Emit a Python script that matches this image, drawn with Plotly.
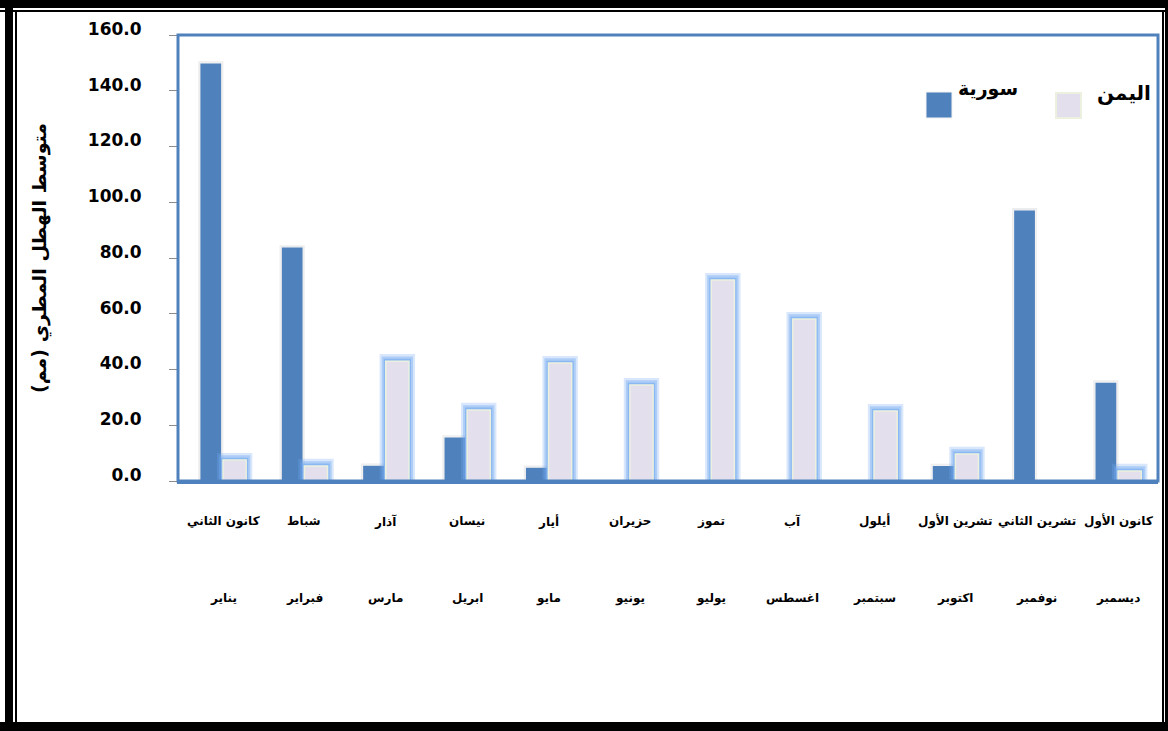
import plotly.graph_objects as go

# Monthly average rainfall (mm), Syria vs Yemen
months_levant = ["كانون الثاني", "شباط", "آذار", "نيسان", "أيار", "حزيران",
                 "تموز", "آب", "أيلول", "تشرين الأول", "تشرين الثاني", "كانون الأول"]
months_egypt = ["يناير", "فبراير", "مارس", "ابريل", "مايو", "يونيو",
                "يوليو", "اغسطس", "سبتمبر", "اكتوبر", "نوفمبر", "ديسمبر"]
syria = [150.0, 84.0, 5.7, 15.8, 5.0, 0.0, 0.0, 0.0, 0.0, 5.6, 97.3, 35.5]
yemen = [7.5, 5.4, 43.0, 25.5, 42.3, 34.4, 72.1, 58.1, 25.1, 9.7, 0.0, 3.6]
y_ticks = [0, 20, 40, 60, 80, 100, 120, 140, 160]

W, H = 1168, 731
L, R, T, B = 178, 10, 35, 250
PW, PH = W - L - R, H - T - B


def px(x):
    return (x - L) / PW


def py(y):
    return (H - B - y) / PH


BLUE = "#4F81BD"
LAV = "#E4DFEC"
LAV_EDGE = "#EBF1DE"

xs = list(range(len(months_levant)))
fig = go.Figure()

# soft shadow behind the Syria bars
fig.add_trace(go.Bar(x=xs, y=[v + 0.6 if v > 0 else 0 for v in syria],
                     width=0.31, offset=-0.305,
                     marker=dict(color="rgba(0,0,0,0.07)", line_width=0),
                     showlegend=False, hoverinfo="skip"))
fig.add_trace(go.Bar(x=xs, y=syria, width=0.27, offset=-0.285, name="سورية",
                     marker=dict(color=BLUE, line=dict(color="#F2F2F2", width=1.2)),
                     showlegend=False))

# blue glow around the Yemen bars
for k, a in [(3, 0.28), (2, 0.42), (1, 0.6)]:
    pad_x = 0.025 * k
    fig.add_trace(go.Bar(x=xs, y=[v + 0.85 * k if v > 0 else 0 for v in yemen],
                         width=0.285 + 2 * pad_x, offset=-pad_x,
                         marker=dict(color=f"rgba(115,170,240,{a})", line_width=0),
                         showlegend=False, hoverinfo="skip"))
fig.add_trace(go.Bar(x=xs, y=yemen, width=0.285, offset=0.0, name="اليمن",
                     marker=dict(color=LAV, line=dict(color=LAV_EDGE, width=1.5)),
                     showlegend=False))

shapes = []
# plot-area frame
shapes.append(dict(type="rect", xref="paper", yref="paper", x0=0, x1=1, y0=0, y1=1,
                   line=dict(color=BLUE, width=3), layer="above"))
# outer black border of the page
black = "#000000"
for x0, x1, y0, y1 in [(0, W, 0, 8), (0, W, 10, 12), (5, 13, 0, H), (15, 17, 10, 722),
                       (0, W, 722, H), (1165, W, 0, H), (1162, 1164, 10, 722)]:
    shapes.append(dict(type="rect", xref="paper", yref="paper",
                       x0=px(x0), x1=px(x1), y0=py(y1), y1=py(y0),
                       fillcolor=black, line_width=0, layer="above"))
# legend swatches
shapes.append(dict(type="rect", xref="paper", yref="paper",
                   x0=px(926), x1=px(952), y0=py(118), y1=py(92),
                   fillcolor=BLUE, line=dict(color="#F2F2F2", width=1)))
shapes.append(dict(type="rect", xref="paper", yref="paper",
                   x0=px(1056), x1=px(1081), y0=py(118), y1=py(93),
                   fillcolor=LAV, line=dict(color=LAV_EDGE, width=2)))

annotations = []
FONT = "DejaVu Sans"
annotations.append(dict(text="سورية", xref="paper", yref="paper", x=px(988), y=py(88),
                        showarrow=False, xanchor="center", yanchor="middle",
                        font=dict(family=FONT, size=19, color="black", weight="bold")))
annotations.append(dict(text="اليمن", xref="paper", yref="paper", x=px(1124), y=py(93),
                        showarrow=False, xanchor="center", yanchor="middle",
                        font=dict(family=FONT, size=20, color="black", weight="bold")))
annotations.append(dict(text="متوسط الهطل المطري (مم)", xref="paper", yref="paper",
                        x=px(40), y=0.5, textangle=-90, showarrow=False,
                        xanchor="center", yanchor="middle",
                        font=dict(family=FONT, size=19, color="black", weight="bold")))
for i, (a, b) in enumerate(zip(months_levant, months_egypt)):
    annotations.append(dict(text=a, xref="x", yref="paper", x=i, y=py(521),
                            showarrow=False, xanchor="center", yanchor="middle",
                            font=dict(family=FONT, size=12, color="black", weight="bold")))
    annotations.append(dict(text=b, xref="x", yref="paper", x=i, y=py(598),
                            showarrow=False, xanchor="center", yanchor="middle",
                            font=dict(family=FONT, size=12, color="black", weight="bold")))

fig.update_layout(
    width=W, height=H, margin=dict(l=L, r=R, t=T, b=B, pad=0),
    paper_bgcolor="white", plot_bgcolor="white",
    barmode="overlay", showlegend=False,
    shapes=shapes, annotations=annotations,
    xaxis=dict(range=[-0.553, len(xs) - 0.51], showticklabels=False, showgrid=False,
               zeroline=False, showline=True, linecolor=BLUE, linewidth=3, ticks=""),
    yaxis=dict(range=[0, 160], tickvals=y_ticks, tickformat=".1f", showgrid=False,
               zeroline=False, showline=True, linecolor="#8C8C8C", linewidth=1,
               ticks="outside", ticklen=8, tickcolor="#8C8C8C",
               ticklabelstandoff=24, ticklabelshift=-6,
               tickfont=dict(family=FONT, size=17, color="black", weight="bold")),
)

fig.write_html("out.html")
